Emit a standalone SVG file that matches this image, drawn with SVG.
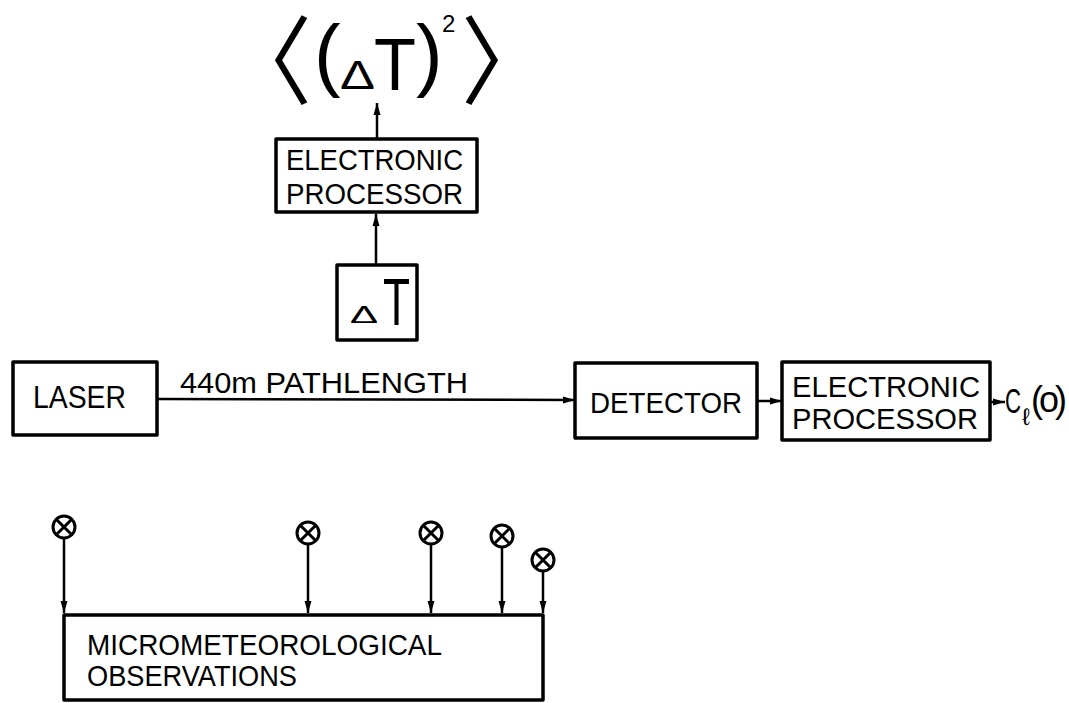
<svg xmlns="http://www.w3.org/2000/svg" width="1069" height="703" viewBox="0 0 1069 703">
<style>
.box{fill:none;stroke:#000;stroke-width:3.5;stroke-linejoin:round}
.ln{fill:none;stroke:#000;stroke-width:2.5}
.t{font-family:"Liberation Sans",Arial,sans-serif;font-size:29px;fill:#000}
.sym{font-family:"Noto Sans CJK SC","DejaVu Sans",sans-serif;font-size:90px;fill:#000}
.sen{fill:none;stroke:#000;stroke-width:3}
</style>
<defs>
<marker id="ah" markerUnits="userSpaceOnUse" markerWidth="13" markerHeight="9" refX="12" refY="4.5" orient="auto">
<path d="M0,1 L12,4.5 L0,8 z" fill="#000"/>
</marker>
</defs>
<rect width="1069" height="703" fill="#fff"/>

<g id="formula">
<text class="sym" x="0" y="0" transform="translate(222,97) scale(1,1.07)">〈</text>
<text class="t" x="314" y="81" style="font-size:80px">(</text>
<text class="t" x="340" y="89" style="font-size:40px" textLength="35" lengthAdjust="spacingAndGlyphs">Δ</text>
<text class="t" x="374" y="90" style="font-size:74px" textLength="42" lengthAdjust="spacingAndGlyphs">T</text>
<text class="t" x="416" y="81" style="font-size:80px">)</text>
<text class="t" x="442" y="32" style="font-size:24px">2</text>
<text class="sym" x="0" y="0" transform="translate(461,97) scale(1,1.07)">〉</text>
</g>

<g id="proc-top">
<rect class="box" x="276" y="139" width="201" height="73"/>
<text class="t" x="286" y="170" textLength="177" lengthAdjust="spacingAndGlyphs">ELECTRONIC</text>
<text class="t" x="286" y="204" textLength="177" lengthAdjust="spacingAndGlyphs">PROCESSOR</text>
</g>

<g id="deltaT">
<rect class="box" x="337" y="265" width="80" height="75"/>
<text class="t" x="350" y="323" style="font-size:24px" textLength="28" lengthAdjust="spacingAndGlyphs">Δ</text>
<text class="t" x="383" y="325" style="font-size:66px" textLength="27" lengthAdjust="spacingAndGlyphs">T</text>
</g>

<g id="laser">
<rect class="box" x="13" y="362" width="144" height="73"/>
<text class="t" x="33" y="408" style="font-size:31px" textLength="93" lengthAdjust="spacingAndGlyphs">LASER</text>
</g>

<g id="detector">
<rect class="box" x="575" y="363" width="182" height="75"/>
<text class="t" x="590" y="413" textLength="152" lengthAdjust="spacingAndGlyphs">DETECTOR</text>
</g>

<g id="proc-right">
<rect class="box" x="782" y="362" width="208" height="78"/>
<text class="t" x="792" y="397" textLength="188" lengthAdjust="spacingAndGlyphs">ELECTRONIC</text>
<text class="t" x="792" y="429" textLength="186" lengthAdjust="spacingAndGlyphs">PROCESSOR</text>
</g>

<g id="output">
<text class="t" x="1005" y="413" style="font-size:35px" textLength="16" lengthAdjust="spacingAndGlyphs">C</text>
<text class="t" x="1022" y="425" style="font-size:24px">ℓ</text>
<text class="t" x="1031" y="412" style="font-size:36px;letter-spacing:-4px">(o)</text>
</g>

<g id="micro">
<rect class="box" x="64" y="615" width="479" height="85"/>
<text class="t" x="87" y="655" textLength="355" lengthAdjust="spacingAndGlyphs">MICROMETEOROLOGICAL</text>
<text class="t" x="87" y="686" textLength="210" lengthAdjust="spacingAndGlyphs">OBSERVATIONS</text>
</g>

<g id="sensors">
<g id="s1"><circle class="sen" cx="64" cy="527" r="11"/><path class="sen" d="M56.2,519.2 L71.8,534.8 M71.8,519.2 L56.2,534.8"/></g>
<g id="s2"><circle class="sen" cx="308" cy="533" r="11"/><path class="sen" d="M300.2,525.2 L315.8,540.8 M315.8,525.2 L300.2,540.8"/></g>
<g id="s3"><circle class="sen" cx="431" cy="533" r="11"/><path class="sen" d="M423.2,525.2 L438.8,540.8 M438.8,525.2 L423.2,540.8"/></g>
<g id="s4"><circle class="sen" cx="502" cy="536" r="11"/><path class="sen" d="M494.2,528.2 L509.8,543.8 M509.8,528.2 L494.2,543.8"/></g>
<g id="s5"><circle class="sen" cx="543" cy="560" r="11"/><path class="sen" d="M535.2,552.2 L550.8,567.8 M550.8,552.2 L535.2,567.8"/></g>
</g>

<g id="connectors">
<line class="ln" x1="377" y1="139" x2="377" y2="103" marker-end="url(#ah)"/>
<line class="ln" x1="376" y1="265" x2="376" y2="214" marker-end="url(#ah)"/>
<line class="ln" x1="157" y1="399" x2="575" y2="400" marker-end="url(#ah)"/>
<text class="t" x="180" y="393" textLength="288" lengthAdjust="spacingAndGlyphs">440m PATHLENGTH</text>
<line class="ln" x1="757" y1="401" x2="782" y2="401" marker-end="url(#ah)"/>
<line class="ln" x1="990" y1="402" x2="1005" y2="402" marker-end="url(#ah)"/>
<line class="ln" x1="64" y1="538" x2="64" y2="613" marker-end="url(#ah)"/>
<line class="ln" x1="308" y1="544" x2="308" y2="613" marker-end="url(#ah)"/>
<line class="ln" x1="431" y1="544" x2="431" y2="613" marker-end="url(#ah)"/>
<line class="ln" x1="502" y1="547" x2="502" y2="613" marker-end="url(#ah)"/>
<line class="ln" x1="543" y1="571" x2="543" y2="613" marker-end="url(#ah)"/>
</g>
</svg>
